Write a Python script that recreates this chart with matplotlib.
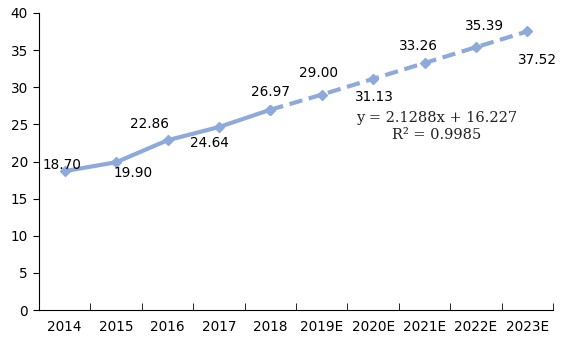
import matplotlib.pyplot as plt
import numpy as np

years = ['2014', '2015', '2016', '2017', '2018',
         '2019E', '2020E', '2021E', '2022E', '2023E']
values = [18.70, 19.90, 22.86, 24.64, 26.97, 29.00, 31.13, 33.26, 35.39, 37.52]
n_actual = 5  # 2014-2018 are actual, the rest are estimates

# label offsets in pixels (dx, dy)
offsets = [(-3, 6), (17, -11), (-18, 16), (-9, -16), (0, 18),
           (-3, 22), (1, -18), (-6, 17), (9, 21), (10, -29)]

color = '#8eaadb'
x = np.arange(len(years))

fig = plt.figure(figsize=(5.63, 3.40), dpi=100)
ax = fig.add_axes([39 / 563, 30 / 340, 514 / 563, 297 / 340])

ax.plot(x[:n_actual], values[:n_actual], color=color, lw=3,
        marker='D', ms=5, solid_capstyle='round')
ax.plot(x[n_actual - 1:], values[n_actual - 1:], color=color, lw=3,
        ls=(0, (3.2, 1.6)), marker='D', ms=5)

for xi, v, (dx, dy) in zip(x, values, offsets):
    ax.annotate(f'{v:.2f}', (xi, v), xytext=(dx, dy), textcoords='offset pixels',
                ha='center', va='center', fontsize=9.8, color='black')

# linear trend equation
ax.text(7.24, 24.7, 'y = 2.1288x + 16.227\nR² = 0.9985', ha='center', va='center',
        fontsize=10.5, family='DejaVu Serif', linespacing=1.25, color='#222222')

ax.set_xlim(-0.5, len(years) - 0.5)
ax.set_ylim(0, 40)
ax.set_yticks(range(0, 41, 5))
ax.set_xticks(x)
ax.set_xticklabels(years)
ax.set_xticks(np.arange(-0.5, len(years), 1), minor=True)
ax.tick_params(axis='x', which='major', length=0, labelsize=9.8, pad=7)
ax.tick_params(axis='x', which='minor', length=5, direction='in')
ax.tick_params(axis='y', length=4, labelsize=9.8, pad=4)

for side in ['top', 'right']:
    ax.spines[side].set_visible(False)

fig.savefig('out.png', dpi=100)
